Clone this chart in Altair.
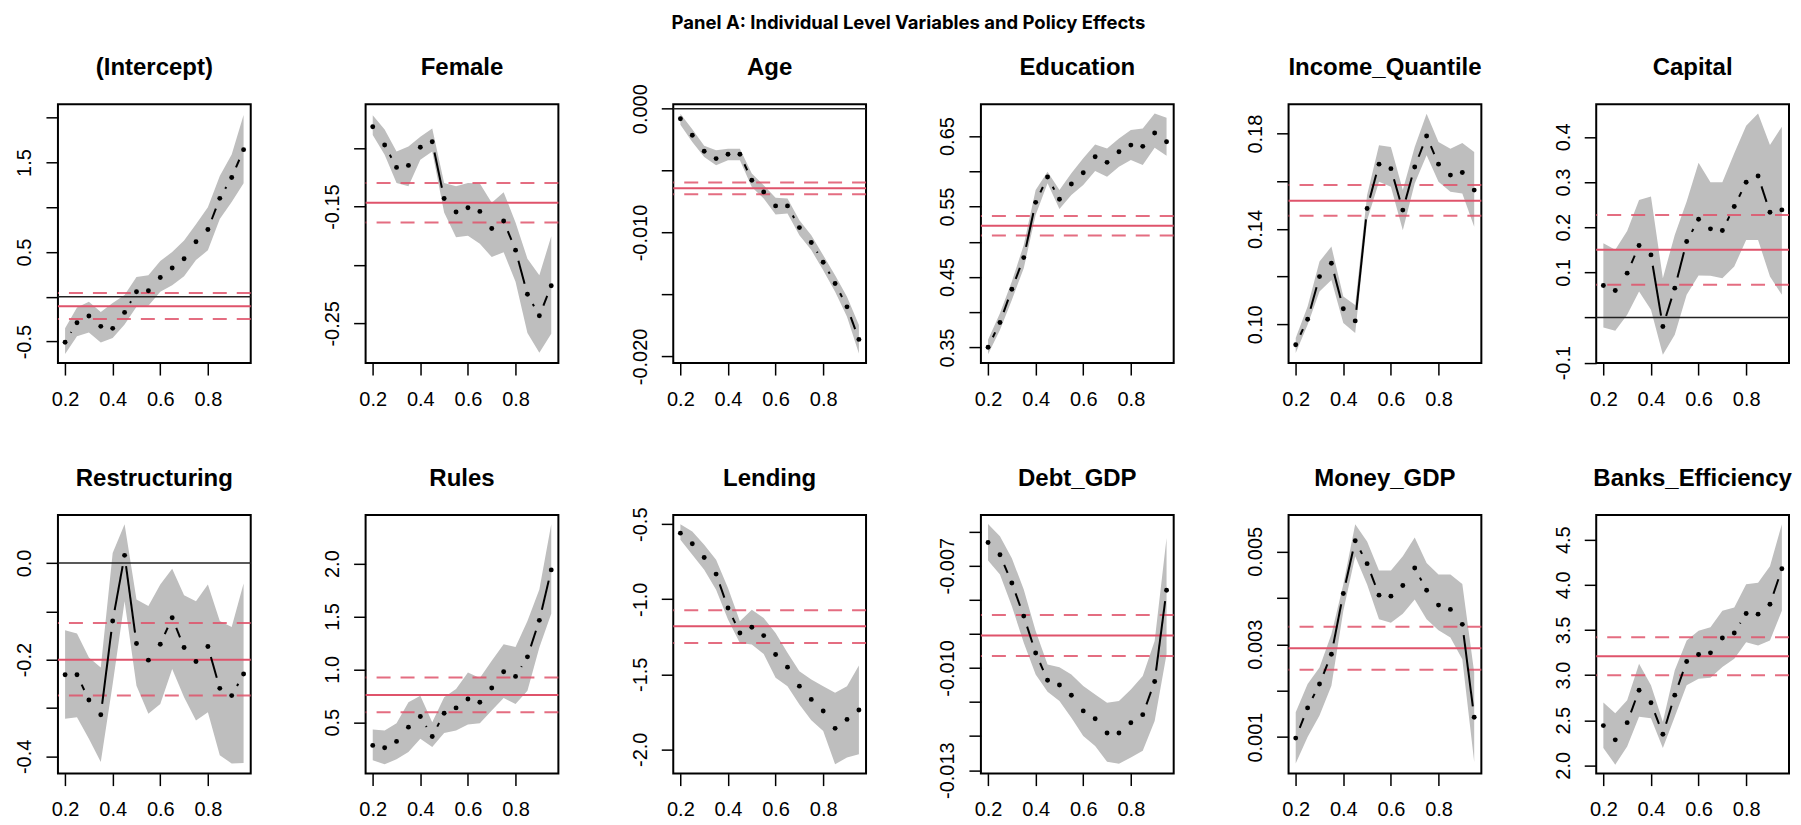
import math
import altair as alt
import pandas as pd

MAIN_TITLE = "Panel A: Individual Level Variables and Policy Effects"
TAU = [0.20, 0.25, 0.30, 0.35, 0.40, 0.45, 0.50, 0.55, 0.60, 0.65, 0.70, 0.75, 0.80, 0.85, 0.90, 0.95]
X_DOMAIN = [0.17, 0.98]
X_TICKS = [0.2, 0.4, 0.6, 0.8]

# ---------------- (Intercept)
INT_COEF = [-0.507, -0.289, -0.215, -0.33, -0.352, -0.174, 0.056, 0.067, 0.215, 0.322, 0.426, 0.615, 0.752, 1.10, 1.333, 1.644]
INT_LO = [-0.64, -0.44, -0.40, -0.51, -0.46, -0.31, -0.11, -0.10, 0.056, 0.13, 0.23, 0.41, 0.52, 0.87, 1.06, 1.27]
INT_HI = [-0.35, -0.12, -0.056, -0.17, -0.07, 0.02, 0.22, 0.24, 0.40, 0.50, 0.63, 0.81, 1.00, 1.35, 1.59, 2.03]
INT_OLS = [-0.104, -0.248, 0.044]
INT_YDOM = [-0.74, 2.15]
INT_TICKS = [-0.5, 0.0, 0.5, 1.0, 1.5, 2.0]
INT_LABELS = ["-0.5", "", "0.5", "", "1.5", ""]

# ---------------- Female
FEM_COEF = [-0.0816, -0.0972, -0.1164, -0.1147, -0.0992, -0.0944, -0.1430, -0.1546, -0.1510, -0.1541, -0.1688, -0.1623, -0.1873, -0.2251, -0.2435, -0.2178]
FEM_LO = [-0.0887, -0.1056, -0.1297, -0.1325, -0.1099, -0.1028, -0.1551, -0.1763, -0.1749, -0.1819, -0.1932, -0.1890, -0.2144, -0.2582, -0.2751, -0.2588]
FEM_HI = [-0.0718, -0.0839, -0.1028, -0.0986, -0.0901, -0.0831, -0.1297, -0.1325, -0.1297, -0.1302, -0.1466, -0.1376, -0.1636, -0.1946, -0.2088, -0.1754]
FEM_OLS = [-0.1466, -0.1636, -0.1297]
FEM_YDOM = [-0.284, -0.0624]
FEM_TICKS = [-0.25, -0.20, -0.15, -0.10]
FEM_LABELS = ["-0.25", "", "-0.15", ""]

# ---------------- Age
AGE_COEF = [-0.00081, -0.00215, -0.00344, -0.00403, -0.00368, -0.00368, -0.00578, -0.00672, -0.00785, -0.00785, -0.0096, -0.0108, -0.0124, -0.01411, -0.0160, -0.01863]
AGE_LO = [-0.0013, -0.0027, -0.0039, -0.00457, -0.00417, -0.00417, -0.00632, -0.00726, -0.00855, -0.00847, -0.01022, -0.01142, -0.01304, -0.01478, -0.0168, -0.01976]
AGE_HI = [-0.0004, -0.00167, -0.0030, -0.00336, -0.00323, -0.00323, -0.00524, -0.00618, -0.0072, -0.00726, -0.0090, -0.01022, -0.01183, -0.01344, -0.01519, -0.01747]
AGE_OLS = [-0.00642, -0.00691, -0.00597]
AGE_YDOM = [-0.02054, 0.00035]
AGE_TICKS = [-0.020, -0.015, -0.010, -0.005, 0.0]
AGE_LABELS = ["-0.020", "", "-0.010", "", "0.000"]

# ---------------- Education
EDU_COEF = [0.3505, 0.3855, 0.4327, 0.4776, 0.556, 0.5919, 0.5603, 0.582, 0.598, 0.6207, 0.6127, 0.6278, 0.6372, 0.6354, 0.6543, 0.642]
EDU_LO = [0.3406, 0.375, 0.4176, 0.4625, 0.538, 0.583, 0.5466, 0.5664, 0.5806, 0.6004, 0.5924, 0.6065, 0.616, 0.6089, 0.6335, 0.6221]
EDU_HI = [0.361, 0.3987, 0.4436, 0.4955, 0.5735, 0.5995, 0.5735, 0.5971, 0.6184, 0.6382, 0.6325, 0.6467, 0.6585, 0.6609, 0.6821, 0.676]
EDU_OLS = [0.5229, 0.5088, 0.5366]
EDU_YDOM = [0.328, 0.695]
EDU_TICKS = [0.35, 0.40, 0.45, 0.50, 0.55, 0.60, 0.65]
EDU_LABELS = ["0.35", "", "0.45", "", "0.55", "", "0.65"]

# ---------------- Income_Quantile
INC_COEF = [0.0914, 0.1021, 0.12, 0.1256, 0.1065, 0.1014, 0.1486, 0.1672, 0.1653, 0.1479, 0.166, 0.179, 0.1672, 0.1626, 0.1637, 0.1563]
INC_LO = [0.0879, 0.0998, 0.1137, 0.1186, 0.1005, 0.0963, 0.1437, 0.1598, 0.1577, 0.1395, 0.1591, 0.1709, 0.1598, 0.1556, 0.1549, 0.1409]
INC_HI = [0.0942, 0.1074, 0.1263, 0.1326, 0.1116, 0.1081, 0.1542, 0.1751, 0.1744, 0.1563, 0.1744, 0.1884, 0.1765, 0.1737, 0.1761, 0.1723]
INC_OLS = [0.1518, 0.1455, 0.1584]
INC_YDOM = [0.0837, 0.1923]
INC_TICKS = [0.10, 0.12, 0.14, 0.16, 0.18]
INC_LABELS = ["0.10", "", "0.14", "", "0.18"]

# ---------------- Capital
CAP_COEF = [0.0708, 0.0597, 0.0981, 0.1593, 0.1386, -0.0199, 0.0649, 0.1681, 0.2176, 0.1962, 0.1925, 0.2456, 0.2994, 0.3134, 0.233, 0.2382]
CAP_LO = [-0.0221, -0.0295, 0.0059, 0.0575, 0.017, -0.0826, -0.0383, 0.0501, 0.0929, 0.0922, 0.087, 0.1128, 0.1718, 0.1718, 0.0907, 0.0501]
CAP_HI = [0.1645, 0.1497, 0.1917, 0.2603, 0.2677, 0.087, 0.1829, 0.2566, 0.3429, 0.2994, 0.2994, 0.3636, 0.4248, 0.452, 0.382, 0.4226]
CAP_OLS = [0.1497, 0.0723, 0.227]
CAP_YDOM = [-0.101, 0.472]
CAP_TICKS = [-0.1, 0.0, 0.1, 0.2, 0.3, 0.4]
CAP_LABELS = ["-0.1", "", "0.1", "0.2", "0.3", "0.4"]

# ---------------- Restructuring
RES_COEF = [-0.2311, -0.2311, -0.2833, -0.3141, -0.12, 0.0158, -0.1667, -0.201, -0.168, -0.1132, -0.1749, -0.2037, -0.1728, -0.2593, -0.2743, -0.2298]
RES_LO = [-0.3224, -0.3189, -0.3635, -0.4115, -0.2503, -0.0789, -0.2538, -0.3121, -0.2915, -0.2195, -0.2778, -0.3258, -0.3086, -0.3978, -0.4149, -0.4136]
RES_HI = [-0.1392, -0.1461, -0.1955, -0.216, 0.0206, 0.0802, -0.0754, -0.0892, -0.0446, -0.0117, -0.0665, -0.0789, -0.0446, -0.12, -0.1324, -0.0425]
RES_OLS = [-0.2003, -0.2743, -0.1241]
RES_YDOM = [-0.4357, 0.0995]
RES_TICKS = [-0.4, -0.3, -0.2, -0.1, 0.0]
RES_LABELS = ["-0.4", "", "-0.2", "", "0.0"]

# ---------------- Rules
RUL_COEF = [0.2805, 0.2586, 0.3182, 0.4531, 0.5535, 0.3652, 0.5849, 0.6351, 0.7198, 0.6884, 0.8233, 0.9771, 0.9331, 1.1183, 1.4634, 1.9404]
RUL_LO = [0.139, 0.1017, 0.1487, 0.2178, 0.3433, 0.2648, 0.3966, 0.4217, 0.4782, 0.4907, 0.61, 0.7292, 0.6727, 0.7982, 1.2061, 1.5262]
RUL_HI = [0.431, 0.4217, 0.4907, 0.6884, 0.7512, 0.50, 0.7355, 0.8139, 0.9708, 0.9175, 1.0806, 1.2375, 1.2124, 1.4572, 1.7553, 2.3734]
RUL_OLS = [0.7575, 0.5943, 0.9237]
RUL_YDOM = [0.0136, 2.461]
RUL_TICKS = [0.5, 1.0, 1.5, 2.0]
RUL_LABELS = ["0.5", "1.0", "1.5", "2.0"]

# ---------------- Lending
LEN_COEF = [-0.5598, -0.6307, -0.7216, -0.8324, -1.058, -1.2246, -1.1869, -1.2423, -1.3686, -1.4528, -1.5791, -1.6677, -1.7453, -1.8605, -1.8007, -1.7386]
LEN_LO = [-0.6041, -0.7039, -0.8036, -0.9365, -1.1359, -1.291, -1.3021, -1.3642, -1.5237, -1.5791, -1.701, -1.8073, -1.8782, -2.0998, -2.0555, -2.0333]
LEN_HI = [-0.50, -0.5487, -0.6374, -0.7371, -0.9254, -1.147, -1.0695, -1.1249, -1.2246, -1.3575, -1.4794, -1.5348, -1.5791, -1.6234, -1.5791, -1.4417]
LEN_OLS = [-1.1802, -1.291, -1.0739]
LEN_YDOM = [-2.162, -0.438]
LEN_TICKS = [-2.0, -1.5, -1.0, -0.5]
LEN_LABELS = ["-2.0", "-1.5", "-1.0", "-0.5"]

# ---------------- Debt_GDP
DEB_COEF = [-0.00632, -0.00668, -0.00751, -0.00848, -0.00956, -0.01036, -0.0105, -0.0108, -0.01126, -0.01149, -0.01191, -0.01191, -0.01161, -0.01137, -0.0104, -0.00772]
DEB_LO = [-0.00685, -0.00726, -0.00819, -0.00926, -0.01019, -0.0107, -0.01097, -0.01146, -0.0120, -0.01229, -0.01275, -0.01281, -0.01263, -0.01243, -0.01156, -0.0096]
DEB_HI = [-0.00578, -0.00614, -0.00678, -0.0077, -0.00892, -0.0099, -0.00998, -0.01019, -0.01053, -0.01078, -0.01102, -0.01097, -0.01063, -0.01024, -0.00921, -0.00619]
DEB_OLS = [-0.00905, -0.00965, -0.00845]
DEB_YDOM = [-0.0131, -0.00551]
DEB_TICKS = [-0.013, -0.012, -0.011, -0.010, -0.009, -0.008, -0.007, -0.006]
DEB_LABELS = ["-0.013", "", "", "-0.010", "", "", "-0.007", ""]

# ---------------- Money_GDP
MON_COEF = [0.000979, 0.001629, 0.002143, 0.002786, 0.004093, 0.005229, 0.004736, 0.004057, 0.004036, 0.004264, 0.004643, 0.004164, 0.003843, 0.00375, 0.003429, 0.001429]
MON_LO = [0.000429, 0.001, 0.001464, 0.002107, 0.003714, 0.004893, 0.004286, 0.003536, 0.003464, 0.003657, 0.003964, 0.003536, 0.0033, 0.003143, 0.002679, 0.000464]
MON_HI = [0.001536, 0.002143, 0.0025, 0.003214, 0.004286, 0.005586, 0.005214, 0.004586, 0.004586, 0.004893, 0.0053, 0.00475, 0.0045, 0.0045, 0.0043, 0.002393]
MON_OLS = [0.002914, 0.00245, 0.003379]
MON_YDOM = [0.000214, 0.005786]
MON_TICKS = [0.001, 0.002, 0.003, 0.004, 0.005]
MON_LABELS = ["0.001", "", "0.003", "", "0.005"]

# ---------------- Banks_Efficiency
BNK_COEF = [2.4399, 2.2823, 2.4729, 2.8321, 2.6928, 2.3446, 2.7771, 3.151, 3.228, 3.2463, 3.4113, 3.4663, 3.6826, 3.6752, 3.7852, 4.1774]
BNK_LO = [2.1906, 2.0073, 2.2089, 2.5389, 2.5205, 2.1906, 2.5389, 2.8871, 2.9604, 2.9714, 3.0887, 3.1804, 3.3636, 3.327, 3.3819, 3.7119]
BNK_HI = [2.6965, 2.5755, 2.7222, 3.1254, 2.8871, 2.4839, 3.0521, 3.3819, 3.4919, 3.5286, 3.7119, 3.7485, 4.0051, 4.0235, 4.2067, 4.6723]
BNK_OLS = [3.2097, 2.997, 3.4186]
BNK_YDOM = [1.908, 4.775]
BNK_TICKS = [2.0, 2.5, 3.0, 3.5, 4.0, 4.5]
BNK_LABELS = ["2.0", "2.5", "3.0", "3.5", "4.0", "4.5"]

PANELS = [
    ("(Intercept)", INT_COEF, INT_LO, INT_HI, INT_OLS, INT_YDOM, INT_TICKS, INT_LABELS),
    ("Female", FEM_COEF, FEM_LO, FEM_HI, FEM_OLS, FEM_YDOM, FEM_TICKS, FEM_LABELS),
    ("Age", AGE_COEF, AGE_LO, AGE_HI, AGE_OLS, AGE_YDOM, AGE_TICKS, AGE_LABELS),
    ("Education", EDU_COEF, EDU_LO, EDU_HI, EDU_OLS, EDU_YDOM, EDU_TICKS, EDU_LABELS),
    ("Income_Quantile", INC_COEF, INC_LO, INC_HI, INC_OLS, INC_YDOM, INC_TICKS, INC_LABELS),
    ("Capital", CAP_COEF, CAP_LO, CAP_HI, CAP_OLS, CAP_YDOM, CAP_TICKS, CAP_LABELS),
    ("Restructuring", RES_COEF, RES_LO, RES_HI, RES_OLS, RES_YDOM, RES_TICKS, RES_LABELS),
    ("Rules", RUL_COEF, RUL_LO, RUL_HI, RUL_OLS, RUL_YDOM, RUL_TICKS, RUL_LABELS),
    ("Lending", LEN_COEF, LEN_LO, LEN_HI, LEN_OLS, LEN_YDOM, LEN_TICKS, LEN_LABELS),
    ("Debt_GDP", DEB_COEF, DEB_LO, DEB_HI, DEB_OLS, DEB_YDOM, DEB_TICKS, DEB_LABELS),
    ("Money_GDP", MON_COEF, MON_LO, MON_HI, MON_OLS, MON_YDOM, MON_TICKS, MON_LABELS),
    ("Banks_Efficiency", BNK_COEF, BNK_LO, BNK_HI, BNK_OLS, BNK_YDOM, BNK_TICKS, BNK_LABELS),
]

W, H = 193, 259
GAP = 11
FONT = "Liberation Sans"
RED = "#DF536B"
BAND = "#BEBEBE"


def label_expr(ticks, labels):
    expr = "''"
    for t, lab in zip(ticks, labels):
        if lab:
            expr = f"abs(datum.value - ({t})) < 1e-9 ? '{lab}' : ({expr})"
    return expr


def gap_segments(coef, ydom):
    sx = W / (X_DOMAIN[1] - X_DOMAIN[0])
    sy = H / (ydom[1] - ydom[0])
    rows = []
    for i in range(len(TAU) - 1):
        ddx = TAU[i + 1] - TAU[i]
        ddy = coef[i + 1] - coef[i]
        L = math.hypot(ddx * sx, ddy * sy)
        if L > 2 * GAP + 0.5:
            f = GAP / L
            rows.append(dict(x=TAU[i] + f * ddx, y=coef[i] + f * ddy,
                             x2=TAU[i + 1] - f * ddx, y2=coef[i + 1] - f * ddy))
    return pd.DataFrame(rows, columns=["x", "y", "x2", "y2"])


def panel(name, coef, lo, hi, ols, ydom, ticks, labels):
    df = pd.DataFrame({"tau": TAU, "coef": coef, "lo": lo, "hi": hi})
    xs = alt.Scale(domain=X_DOMAIN, nice=False, zero=False)
    ys = alt.Scale(domain=ydom, nice=False, zero=False)
    xaxis = alt.Axis(values=X_TICKS, format=".1f", title=None, grid=False, domain=False,
                     tickSize=12, tickWidth=1.5, tickColor="black", labelPadding=14,
                     labelFont=FONT, labelFontSize=20, labelColor="black", labelFlush=False)
    yaxis = alt.Axis(values=ticks, labelExpr=label_expr(ticks, labels), title=None, grid=False,
                     domain=False, tickSize=12, tickWidth=1.5, tickColor="black",
                     labelAngle=270, labelAlign="center", labelBaseline="alphabetic",
                     labelPadding=15, labelFont=FONT, labelFontSize=20, labelColor="black",
                     labelFlush=False, labelOverlap=False)
    X = lambda f: alt.X(f, scale=xs, axis=xaxis)
    Y = lambda f: alt.Y(f, scale=ys, axis=yaxis)
    band = alt.Chart(df).mark_area(color=BAND, opacity=1).encode(
        x=X("tau:Q"), y=Y("lo:Q"), y2="hi:Q")
    layers = [band]
    if ydom[0] < 0 < ydom[1]:
        layers.append(alt.Chart(pd.DataFrame({"v": [0.0]})).mark_rule(color="#222222", strokeWidth=1.5).encode(
            y=Y("v:Q")))
    ols_df = pd.DataFrame({"v": ols, "kind": ["est", "lo", "hi"]})
    layers.append(alt.Chart(ols_df).transform_filter("datum.kind == 'est'").mark_rule(
        color=RED, strokeWidth=2).encode(y=Y("v:Q")))
    layers.append(alt.Chart(ols_df).transform_filter("datum.kind != 'est'").mark_rule(
        color=RED, strokeWidth=2, strokeDash=[14, 10], opacity=0.85).encode(y=Y("v:Q")))
    seg = gap_segments(coef, ydom)
    if len(seg):
        layers.append(alt.Chart(seg).mark_rule(color="black", strokeWidth=2).encode(
            x=X("x:Q"), y=Y("y:Q"), x2="x2:Q", y2="y2:Q"))
    layers.append(alt.Chart(df).mark_circle(color="black", size=24, opacity=1).encode(
        x=X("tau:Q"), y=Y("coef:Q")))
    # panel title drawn as text so that it sits at the same height in every panel
    layers.append(alt.Chart(pd.DataFrame({"t": [name]})).mark_text(
        font=FONT, fontSize=24, fontWeight="bold", color="black", align="center",
        baseline="alphabetic").encode(x=alt.value(W / 2), y=alt.value(-29), text="t:N"))
    return alt.layer(*layers).properties(width=W, height=H)


charts = [panel(*p) for p in PANELS]
chart = alt.concat(*charts, columns=6, spacing={"row": 152, "column": 115}, bounds="flush").properties(
    title=alt.TitleParams(MAIN_TITLE, font="Inter", fontSize=18.5, fontWeight="bold", color="black",
                          anchor="middle", dx=5, offset=23),
    padding={"left": 5, "top": 5, "right": 0, "bottom": 5},
    background="white",
).configure_view(stroke="black", strokeWidth=2)

chart.save("out.html", embed_options={"renderer": "svg", "actions": False})
